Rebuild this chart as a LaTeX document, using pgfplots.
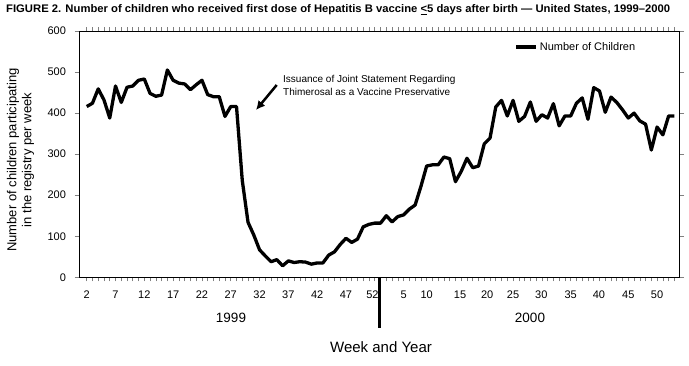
\documentclass[border=0pt]{standalone}
\usepackage{fontspec}
\setmainfont{Liberation Sans}
\usepackage{pgfplots}
\pgfplotsset{compat=1.18}
\usetikzlibrary{arrows.meta}
\pgfplotstableread{
i v
2 416
3 424
4 459
5 432
6 388
7 466
8 426
9 463
10 466
11 480
12 483
13 448
14 441
15 444
16 505
17 480
18 473
19 471
20 457
21 469
22 480
23 445
24 440
25 440
26 392
27 416
28 416
29 236
30 134
31 103
32 67
33 52
34 38
35 43
36 28
37 40
38 36
39 38
40 37
41 32
42 35
43 35
44 54
45 62
46 80
47 95
48 85
49 93
50 123
51 129
52 132
53 132
54 150
55 135
56 148
57 152
58 166
59 176
60 221
61 271
62 274
63 274
64 293
65 289
66 233
67 258
68 290
69 267
70 271
71 325
72 339
73 415
74 431
75 393
76 431
77 380
78 392
79 427
80 380
81 396
82 388
83 423
84 369
85 393
86 393
87 424
88 437
89 385
90 462
91 454
92 402
93 439
94 426
95 408
96 388
97 400
98 381
99 373
100 310
101 366
102 347
103 393
104 393
}\datatable
\begin{document}
\begin{tikzpicture}
\useasboundingbox (-79.5pt,-87.7pt) rectangle (609.5pt,277.3pt);
\begin{axis}[
  at={(0pt,0pt)}, anchor=south west,
  scale only axis, width=599.5pt, height=246.3pt,
  xmin=0.75, xmax=104.8, ymin=0, ymax=600,
  axis line style={line width=0.8pt},
  tick align=outside,
  ytick={0,100,...,600},
  major tick length=5pt,
  minor tick length=4pt,
  xtick={2,7,12,17,22,27,32,37,42,47,51.6,57,61,66.8,71.5,76,80.9,86,90.9,96,101},
  xticklabels={2,7,12,17,22,27,32,37,42,47,52,5,10,15,20,25,30,35,40,45,50},
  minor xtick={2,...,104},
  major x tick style={draw=none},
  minor x tick style={line width=0.6pt},
  ytick style={line width=0.6pt},
  ticklabel style={font=\fontsize{11}{13}\selectfont},
  xticklabel style={yshift=-5pt},
  yticklabel style={xshift=-5pt},
  /pgf/number format/assume math mode=true,
  clip=false,
  legend style={draw=none, fill=none, at={(rel axis cs:0.725,0.936)}, anchor=west,
    inner sep=0pt, font=\fontsize{11}{13}\selectfont},
  legend image code/.code={\draw[line width=3.5pt] (0pt,0pt) -- (20pt,0pt);},
]
\addplot[black, line width=3.3pt, line join=round] table[x=i, y=v] {\datatable};
\addlegendentry{Number of Children}
\end{axis}
\node[anchor=west, inner sep=0pt] at (-73.5pt,267.3pt)
  {\resizebox{664pt}{\height}{\bfseries\fontsize{11}{13}\selectfont FIGURE 2. Number of children who received first dose of Hepatitis B vaccine \underline{<}5 days after birth — United States, 1999–2000}};
\node[rotate=90, align=center, font=\fontsize{13}{15}\selectfont] at (-59pt,117.3pt)
  {Number of children participating\\in the registry per week};
\node[anchor=west, align=left, inner sep=0pt, font=\fontsize{10}{13}\selectfont] at (203.5pt,191.8pt)
  {Issuance of Joint Statement Regarding\\Thimerosal as a Vaccine Preservative};
\draw[line width=2.5pt, -{Latex[length=9pt,width=9pt]}] (197.2pt,192.3pt) -- (176.5pt,167.3pt);
\draw[line width=2.5pt] (300pt,0pt) -- (300pt,-51pt);
\node[font=\fontsize{13.5}{15}\selectfont] at (151.5pt,-41pt) {1999};
\node[font=\fontsize{13.5}{15}\selectfont] at (450.5pt,-41pt) {2000};
\node[font=\fontsize{15}{17}\selectfont] at (301.5pt,-70pt) {Week and Year};
\end{tikzpicture}
\end{document}
